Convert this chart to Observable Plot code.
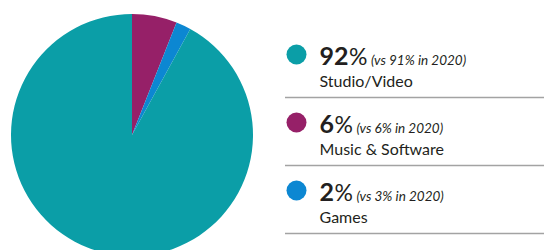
<!DOCTYPE html>
<html>
<head>
<meta charset="utf-8">
<script src="https://cdn.jsdelivr.net/npm/d3@7"></script>
<script src="https://cdn.jsdelivr.net/npm/@observablehq/plot@0.6"></script>
<style>
  html, body { margin: 0; padding: 0; background: #fff; }
  #chart { display: flex; width: 544px; height: 250px; overflow: hidden; }
  #chart svg { display: block; }
</style>
</head>
<body>
<div id="chart"></div>
<script>
// ---- data ----
const categories = ["Studio/Video", "Music & Software", "Games"];
const share2021 = [92, 6, 2];
const share2020 = [91, 6, 3];
const colors = ["#0b9ea7", "#962068", "#0c87d2"];
const pieOrder = ["Music & Software", "Games", "Studio/Video"];

const rows = categories.map((c, i) => ({category: c, value: share2021[i], prev: share2020[i]}));
const pieRows = pieOrder.map(c => rows.find(r => r.category === c));

const colorScale = Plot.scale({color: {type: "ordinal", domain: categories, range: colors}});
const FONT = "Lato, 'Open Sans', sans-serif";
const TEXT = "#231f20";

// ---- pie ----
const cx = 132, cy = 135, R = 121;
const pie = Plot.plot({
  width: 272, height: 250, margin: 0,
  style: {background: "transparent"},
  marks: [
    (index, scales, values, dims) => {
      const g = d3.create("svg:g").attr("transform", `translate(${cx},${cy})`);
      const arcs = d3.pie().sort(null).value(d => d.value)(pieRows);
      g.selectAll("path").data(arcs).join("path")
        .attr("d", d3.arc().innerRadius(0).outerRadius(R))
        .attr("fill", d => colorScale.apply(d.data.category));
      return g.node();
    }
  ]
});

// ---- legend ----
const ctx = document.createElement("canvas").getContext("2d");
function tw(text, font) { ctx.font = font; return ctx.measureText(text).width; }

const textX = 34;
const legendMarks = [
  Plot.dot(rows, {y: "category", fill: "category", r: 10, frameAnchor: "left", dx: 11}),
  Plot.text(rows, {y: "category", text: "category", frameAnchor: "left", textAnchor: "start",
    lineAnchor: "bottom", dx: textX, dy: 32, fontSize: 16, fill: TEXT, fontFamily: FONT}),
  Plot.ruleY(rows, {y: "category", dy: 43, stroke: "#a3a3a3", strokeWidth: 1.5})
];
rows.forEach(r => {
  const num = String(r.value);
  const wNum = tw(num, `bold 25px ${FONT}`);
  const wPct = tw("%", `23px ${FONT}`);
  legendMarks.push(
    Plot.text([r], {y: "category", text: d => String(d.value), frameAnchor: "left", textAnchor: "start",
      lineAnchor: "bottom", dx: textX, dy: 10, fontSize: 25, fontWeight: "bold", fill: TEXT, fontFamily: FONT}),
    Plot.text([r], {y: "category", text: () => "%", frameAnchor: "left", textAnchor: "start",
      lineAnchor: "bottom", dx: textX + wNum + 0.5, dy: 10, fontSize: 23, fill: TEXT, fontFamily: FONT}),
    Plot.text([r], {y: "category", text: d => `(vs ${d.prev}% in 2020)`, frameAnchor: "left", textAnchor: "start",
      lineAnchor: "bottom", dx: textX + wNum + wPct + 4, dy: 10, fontSize: 13.5, fontStyle: "italic", fill: TEXT, fontFamily: FONT})
  );
});

const legend = Plot.plot({
  width: 272, height: 250, margin: 0, marginLeft: 13,
  style: {background: "transparent"},
  y: {type: "point", domain: categories, range: [54, 190], padding: 0, axis: null},
  color: {domain: categories, range: colors},
  marks: legendMarks
});

document.getElementById("chart").append(pie, legend);
</script>
</body>
</html>
